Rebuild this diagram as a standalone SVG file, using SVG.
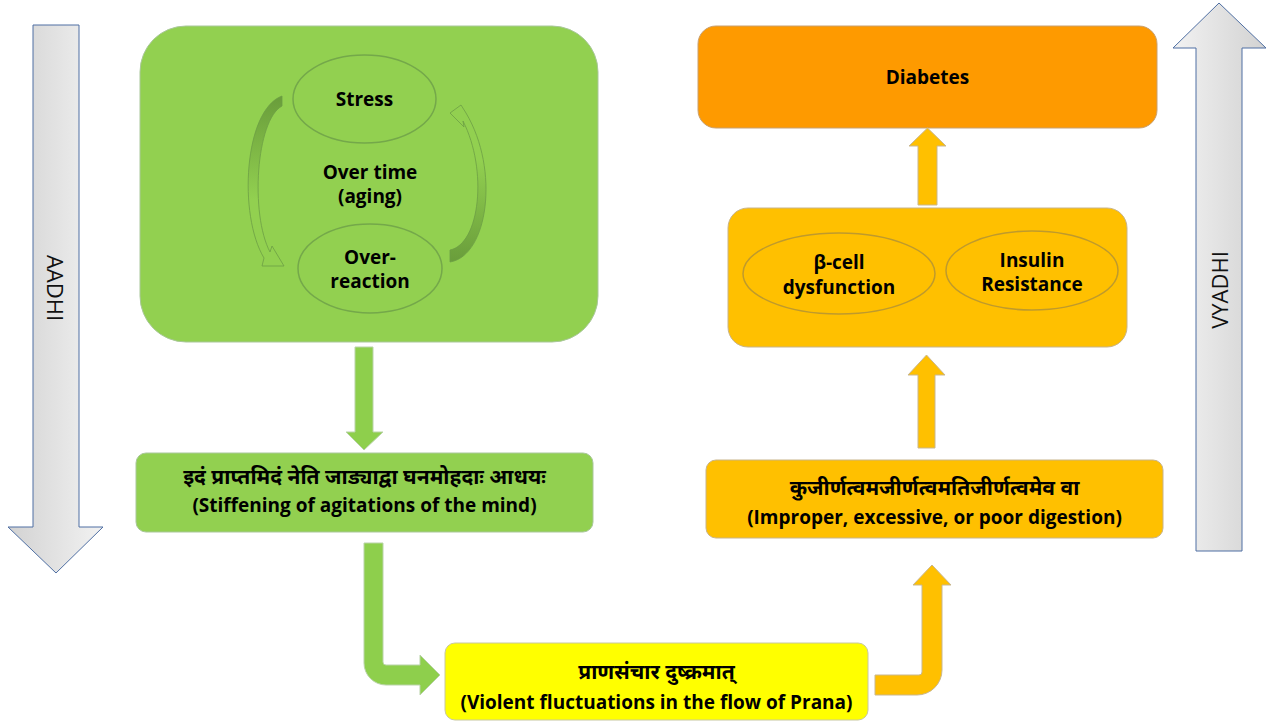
<svg xmlns="http://www.w3.org/2000/svg" width="1282" height="726" viewBox="0 0 1282 726">
<style>
.t{font-family:"Open Sans","Noto Sans",sans-serif;font-weight:bold;font-size:19px;text-anchor:middle;fill:#000}
.dv{font-family:"Noto Sans Devanagari","Lohit Devanagari","FreeSans","Noto Sans",sans-serif;font-size:21px;font-weight:bold;text-anchor:middle;fill:#000}
.side{font-family:"Open Sans","Noto Sans",sans-serif;font-size:22px;text-anchor:middle;fill:#111;dominant-baseline:central}
.gbox{fill:#92d050;stroke:#a9c79a;stroke-width:1}
.obox{fill:#ffc000;stroke:#c8b48a;stroke-width:1}
.garr{fill:#8ecf4c;stroke:#b9d3a8;stroke-width:1}
.oarr{fill:#ffc000;stroke:#c9b78e;stroke-width:1}
.gell{fill:none;stroke:#74a84a;stroke-width:1.5}
.oell{fill:none;stroke:#bf9a2c;stroke-width:1.5}
.cyc{stroke:#6d9f45;stroke-width:1;stroke-opacity:0.8;stroke-linejoin:round}
</style>
<defs>
<linearGradient id="gA" x1="0" y1="0" x2="1" y2="0">
<stop offset="0" stop-color="#d2d2d2"/><stop offset="1" stop-color="#f2f2f2"/>
</linearGradient>
<linearGradient id="gV" x1="0" y1="0" x2="1" y2="0">
<stop offset="0" stop-color="#f2f2f2"/><stop offset="1" stop-color="#d2d2d2"/>
</linearGradient>
<linearGradient id="cl" gradientUnits="userSpaceOnUse" x1="0" y1="96" x2="0" y2="200">
<stop offset="0" stop-color="#679a3a" stop-opacity="0.95"/><stop offset="1" stop-color="#679a3a" stop-opacity="0"/>
</linearGradient>
<linearGradient id="cr" gradientUnits="userSpaceOnUse" x1="0" y1="262" x2="0" y2="160">
<stop offset="0" stop-color="#679a3a" stop-opacity="0.95"/><stop offset="1" stop-color="#679a3a" stop-opacity="0"/>
</linearGradient>
</defs>

<g id="aadhi">
<path d="M33,25 L79,25 L79,527 L103,527 L56,573 L8,527 L33,527 Z" fill="url(#gA)" stroke="#4f6fa3" stroke-width="1"/>
<text class="side" transform="translate(56,288) rotate(90)">AADHI</text>
</g>
<g id="vyadhi">
<path d="M1196,551 L1242,551 L1242,48 L1266,48 L1219,3 L1173,48 L1196,48 Z" fill="url(#gV)" stroke="#4f6fa3" stroke-width="1"/>
<text class="side" transform="translate(1219,290) rotate(-90)">VYADHI</text>
</g>

<g id="mind-cycle">
<rect class="gbox" x="140" y="26" width="458" height="316" rx="46"/>
<g id="stress">
<ellipse class="gell" cx="364.5" cy="99" rx="71.5" ry="44"/>
<text class="t" x="364.5" y="106">Stress</text>
</g>
<g id="overreaction">
<ellipse class="gell" cx="370" cy="268.5" rx="72" ry="44.5"/>
<text class="t" x="370" y="264">Over-</text>
<text class="t" x="370" y="288">reaction</text>
</g>
<text class="t" x="370" y="179">Over time</text>
<text class="t" x="370" y="203">(aging)</text>
<g id="cycle-arrows">
<path class="cyc" d="M282,96 C244,110 238,215 264,258 L262,266 L284,266 L272,246 L270,252 C250,214 256,120 282,106 Z" fill="url(#cl)"/>
<path class="cyc" d="M450,262 C488,256 500,170 466,113 L461,105 L450,113 L464,127 L463,121 C488,170 480,244 450,250 Z" fill="url(#cr)"/>
</g>
</g>

<g id="aadhi-node">
<rect class="gbox" x="136" y="453" width="457" height="79" rx="10"/>
<text class="dv" x="364.5" y="484">इदं प्राप्तमिदं नेति जाड्याद्वा घनमोहदाः आधयः</text>
<text class="t" x="364.5" y="512">(Stiffening of agitations of the mind)</text>
</g>

<g id="prana">
<rect x="445" y="643" width="423" height="77" rx="10" fill="#ffff00" stroke="#c8c8a0" stroke-width="1"/>
<text class="dv" x="656.5" y="679">प्राणसंचार दुष्क्रमात्</text>
<text class="t" x="656.5" y="709">(Violent fluctuations in the flow of Prana)</text>
</g>

<g id="digestion">
<rect class="obox" x="706" y="460" width="457" height="78" rx="10"/>
<text class="dv" x="934.5" y="495">कुजीर्णत्वमजीर्णत्वमतिजीर्णत्वमेव वा</text>
<text class="t" x="934.5" y="524">(Improper, excessive, or poor digestion)</text>
</g>

<g id="beta-insulin">
<rect class="obox" x="728" y="208" width="399" height="139" rx="20"/>
<g id="beta">
<ellipse class="oell" cx="839" cy="273.5" rx="96" ry="40.5"/>
<text class="t" x="839" y="269">β-cell</text>
<text class="t" x="839" y="294">dysfunction</text>
</g>
<g id="insulin">
<ellipse class="oell" cx="1032" cy="270.5" rx="86" ry="39.5"/>
<text class="t" x="1032" y="267">Insulin</text>
<text class="t" x="1032" y="291">Resistance</text>
</g>
</g>

<g id="diabetes">
<rect x="698" y="26" width="459" height="102" rx="18" fill="#fe9a00" stroke="#c8a070" stroke-width="1"/>
<text class="t" x="927.5" y="84">Diabetes</text>
</g>

<g id="connectors">
<path class="garr" d="M355,347 L373,347 L373,432 L383,432 L364,450 L346,432 L355,432 Z"/>
<path class="garr" d="M364,543 L383,543 L383,662 Q383,665 386,665 L420,665 L420,655 L440,675 L420,695 L420,685 L386,685 A22,22 0 0 1 364,663 Z"/>
<path class="oarr" d="M875,675 L919,675 Q922,675 922,672 L922,585 L913,585 L932,565 L951,585 L942,585 L942,670 A25,25 0 0 1 917,695 L875,695 Z"/>
<path class="oarr" d="M918,448 L935,448 L935,375 L945,375 L926.5,355 L908,375 L918,375 Z"/>
<path class="oarr" d="M918,205 L937,205 L937,146 L946,146 L927.5,128 L909,146 L918,146 Z"/>
</g>
</svg>
